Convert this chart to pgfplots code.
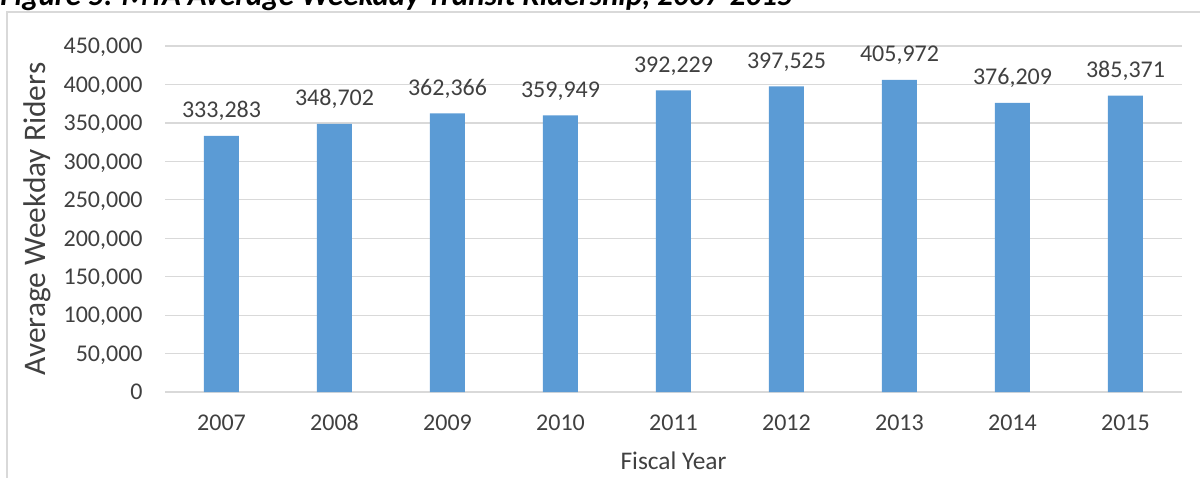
\documentclass[border=0pt]{standalone}
\usepackage{pgfplots}
\pgfplotsset{compat=1.18}
\usepackage{pgfplotstable}
\usepackage{fontspec}
\setmainfont{Carlito}
\definecolor{barblue}{HTML}{5B9BD5}
\definecolor{gridgray}{HTML}{D9D9D9}
\definecolor{txt}{HTML}{404040}
\pgfplotstableread{
x y lab
0 333283 333,283
1 348702 348,702
2 362366 362,366
3 359949 359,949
4 392229 392,229
5 397525 397,525
6 405972 405,972
7 376209 376,209
8 385371 385,371
}\ridership
\begin{document}
\begin{tikzpicture}[x=0.5pt,y=-0.5pt]
\begin{axis}[
  at={(82.5pt,-196pt)}, anchor=south west,
  scale only axis, width=508.5pt, height=173pt,
  ybar, bar width=17.5pt, bar shift=0pt,
  xmin=-0.5, xmax=8.5, ymin=0, ymax=450000,
  xtick=data, xticklabels={2007,2008,2009,2010,2011,2012,2013,2014,2015},
  ytick={0,50000,...,450000},
  scaled y ticks=false,
  axis line style={draw=none},
  ymajorgrids, grid style={gridgray, line width=0.6pt},
  major tick length=0pt,
  /pgf/number format/assume math mode=true,
  tick label style={font=\fontsize{12}{14}\selectfont, text=txt},
  yticklabel style={/pgf/number format/fixed, /pgf/number format/1000 sep={,}, anchor=east, inner sep=0pt, xshift=-11pt, text depth=0pt},
  xticklabel style={anchor=base, yshift=-19pt},
  nodes near coords, point meta=explicit symbolic,
  every node near coord/.append style={anchor=base, yshift=9pt, font=\fontsize{12}{14}\selectfont, text=txt},
  clip=false,
]
\addplot[fill=barblue, draw=none] table[x=x, y=y, meta=lab]{\ridership};
\end{axis}
\node[anchor=base west, inner sep=0pt, font=\fontsize{15.5}{18}\selectfont\bfseries\itshape] at (0,5.5) {Figure 5: MTA Average Weekday Transit Ridership, 2007-2015};
\draw[gridgray, line width=1pt] (7,495) -- (7,12) -- (1215,12);
\node[anchor=base, inner sep=0pt, font=\fontsize{12.7}{15}\selectfont, text=txt] at (673.5,469) {Fiscal Year};
\node[rotate=90, anchor=base, inner sep=0pt, font=\fontsize{15.7}{18}\selectfont, text=txt] at (45,219) {Average Weekday Riders};
\pgfresetboundingbox
\useasboundingbox (0,0) rectangle (1200,477);
\end{tikzpicture}
\end{document}
